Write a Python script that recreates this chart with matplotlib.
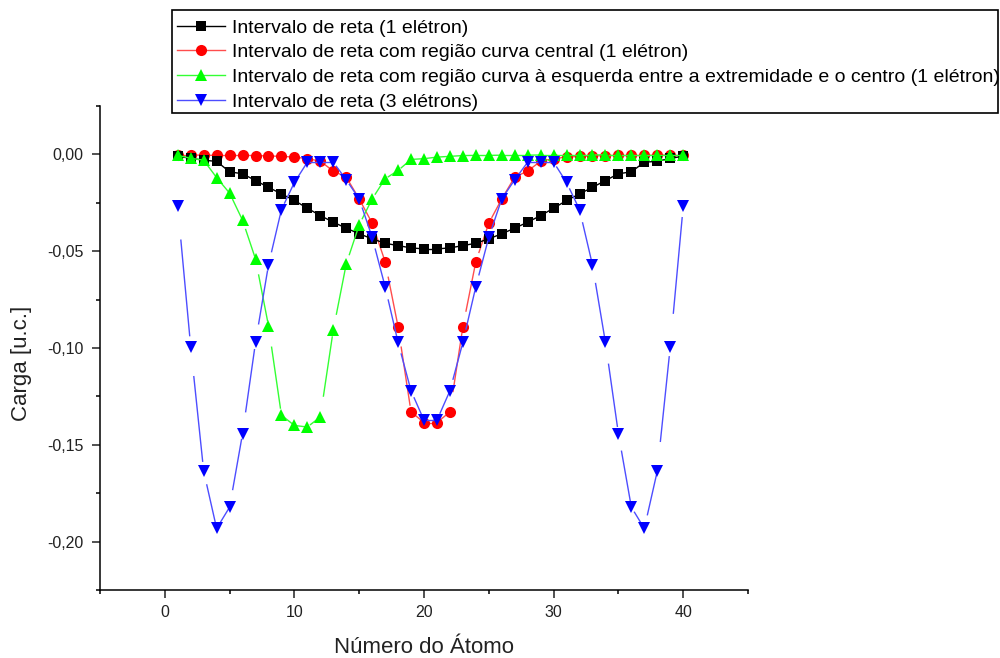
#Import libraries
import matplotlib
matplotlib.use('Agg')
import matplotlib.pyplot as plt
from matplotlib.lines import Line2D
from matplotlib.patches import Rectangle
from matplotlib.ticker import MultipleLocator, FuncFormatter
import numpy as np

plt.rcParams['font.family'] = ['Liberation Sans', 'DejaVu Sans']

#Atom index along the chain
atoms = list(range(1, 41))

#Charge per atom for each configuration
reta_1e = [-0.001, -0.002, -0.003, -0.0036, -0.009, -0.010, -0.0135, -0.017, -0.0204, -0.0238,
           -0.0278, -0.0316, -0.035, -0.0381, -0.041, -0.0436, -0.0459, -0.0471, -0.0483, -0.0488,
           -0.0488, -0.0483, -0.0471, -0.0459, -0.0436, -0.041, -0.0381, -0.035, -0.0316, -0.0278,
           -0.0238, -0.0204, -0.017, -0.0135, -0.010, -0.009, -0.004, -0.0036, -0.002, -0.001]

curva_central = [-0.0003, -0.0003, -0.0004, -0.0005, -0.0005, -0.0005, -0.0006, -0.0008, -0.001, -0.0014,
                 -0.0022, -0.0035, -0.0086, -0.0117, -0.023, -0.0355, -0.0554, -0.089, -0.133, -0.1385,
                 -0.1385, -0.133, -0.089, -0.0554, -0.0355, -0.023, -0.0117, -0.0086, -0.0035, -0.0022,
                 -0.0014, -0.001, -0.0008, -0.0006, -0.0005, -0.0005, -0.0005, -0.0004, -0.0003, -0.0003]

curva_esquerda = [-0.0005, -0.002, -0.003, -0.012, -0.020, -0.034, -0.054, -0.0885, -0.1347, -0.140,
                  -0.1408, -0.1356, -0.0907, -0.0566, -0.0364, -0.023, -0.0126, -0.0083, -0.0026, -0.0022,
                  -0.0014, -0.001, -0.0006, -0.0005, -0.0005, -0.0004, -0.0004, -0.0004, -0.0003, -0.0003,
                  -0.0003, -0.0003, -0.0003, -0.0002, -0.0002, -0.0002, -0.0002, -0.0002, -0.0002, -0.0002]

reta_3e = [-0.0269, -0.0994, -0.1636, -0.1932, -0.1822, -0.1442, -0.0971, -0.0571, -0.0285, -0.0145,
           -0.004, -0.004, -0.004, -0.0131, -0.023, -0.0428, -0.0683, -0.0971, -0.1221, -0.1373,
           -0.1373, -0.1221, -0.0971, -0.0683, -0.0428, -0.023, -0.0131, -0.004, -0.004, -0.004,
           -0.0145, -0.0285, -0.0571, -0.0971, -0.1442, -0.1822, -0.1932, -0.1636, -0.0994, -0.0269]

labels = ['Intervalo de reta (1 elétron)',
          'Intervalo de reta com região curva central (1 elétron)',
          'Intervalo de reta com região curva à esquerda entre a extremidade e o centro (1 elétron)',
          'Intervalo de reta (3 elétrons)']

#series, marker, marker colour, line colour, marker size, z order
styles = [
    (reta_1e, 's', '#000000', '#000000', 7.5, 3),
    (curva_central, 'o', '#ff0000', '#ff4d4d', 8.0, 2),
    (curva_esquerda, '^', '#00ff00', '#33ff33', 9.0, 4),
    (reta_3e, 'v', '#0000ff', '#4d4dff', 9.0, 5),
]


def gapped_line(ax, xs, ys, color, z, g0=0.24, g1=0.08):
    #Connect points with segments that stop short of the symbols
    trans = ax.transData
    inv = trans.inverted()
    pts = trans.transform(np.column_stack([xs, ys]))
    for p0, p1 in zip(pts[:-1], pts[1:]):
        d = p1 - p0
        a = inv.transform(p0 + g0 * d)
        b = inv.transform(p1 - g1 * d)
        ax.plot([a[0], b[0]], [a[1], b[1]], color=color, lw=1.0, zorder=z)


fig = plt.figure(figsize=(10, 6.58), dpi=100)
ax = fig.add_axes([0.1, 0.1033, 0.648, 0.7356])
ax.set_xlim(-5, 45)
ax.set_ylim(-0.225, 0.025)

handles = []
for (vals, mk, mc, lc, ms, z), lab in zip(styles, labels):
    gapped_line(ax, atoms, vals, lc, z)
    ax.plot(atoms, vals, ls='none', marker=mk, color=mc, markersize=ms,
            markeredgewidth=0, zorder=z + 0.5)
    handles.append(Line2D([], [], color=lc, lw=1.0, marker=mk, markerfacecolor=mc,
                          markeredgewidth=0, markersize=ms))

#Axes style: only left and bottom spines, outward ticks
for side in ['top', 'right']:
    ax.spines[side].set_visible(False)
for side in ['left', 'bottom']:
    ax.spines[side].set_linewidth(1.1)

ax.xaxis.set_major_locator(MultipleLocator(10))
ax.xaxis.set_minor_locator(MultipleLocator(5))
ax.yaxis.set_major_locator(MultipleLocator(0.05))
ax.yaxis.set_minor_locator(MultipleLocator(0.025))
ax.yaxis.set_major_formatter(FuncFormatter(lambda v, p: f'{v:.2f}'.replace('.', ',').replace('-0,00', '0,00')))
ax.tick_params(which='major', direction='out', length=6, width=1.1, labelsize=11.5, pad=6, colors='#222222')
ax.tick_params(which='minor', direction='out', length=3, width=1.1)
ax.tick_params(axis='x', which='major', pad=5)

ax.set_xlabel('Número do Átomo', fontsize=16, color='#222222')
ax.set_ylabel('Carga [u.c.]', fontsize=16, color='#222222')
ax.xaxis.set_label_coords(0.5, -0.097)
ax.yaxis.set_label_coords(-0.105, 0.469)

#Legend without its own frame; the box is drawn separately
leg = fig.legend(handles, labels, loc='upper left', bbox_to_anchor=(0.177, 0.971),
                 fontsize=14, frameon=False, handlelength=2.45, handletextpad=0.4,
                 labelspacing=0.36, borderpad=0, borderaxespad=0, numpoints=1)
fig.add_artist(Rectangle((0.172, 1 - 113 / 658), 0.826, 103 / 658, transform=fig.transFigure,
                         fill=False, edgecolor='black', lw=1.2))

plt.savefig('out.png', dpi=100)
